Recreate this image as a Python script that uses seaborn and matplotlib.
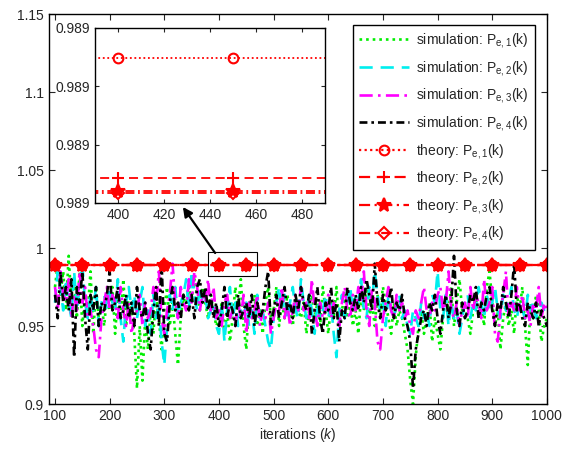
import numpy as np
import pandas as pd
import matplotlib
matplotlib.use("Agg")
import matplotlib.pyplot as plt
import seaborn as sns
from matplotlib.patches import Rectangle

sns.set_style("ticks")
plt.rcParams['font.family'] = ['Liberation Sans', 'DejaVu Sans']
plt.rcParams['mathtext.fontset'] = 'custom'
plt.rcParams['mathtext.rm'] = 'Liberation Sans'
plt.rcParams['mathtext.it'] = 'Liberation Sans:italic'

k_sim = list(range(100, 1001, 5))

sim1 = [.975,.990,.970,.985,.960,.995,.965,.980,.955,.985,
        .950,.970,.960,.985,.945,.975,.955,.965,.950,.970,
        .960,.975,.945,.970,.955,.980,.950,.965,.960,.945,
        .910,.950,.915,.955,.935,.960,.945,.970,.955,.935,
        .960,.975,.950,.965,.945,.925,.955,.970,.960,.975,
        .965,.980,.970,.960,.975,.965,.955,.970,.960,.950,
        .955,.965,.945,.960,.940,.955,.975,.960,.980,.950,
        .935,.965,.955,.970,.950,.960,.945,.965,.975,.955,
        .960,.975,.950,.965,.955,.970,.960,.950,.965,.960,
        .955,.965,.945,.960,.970,.955,.965,.950,.975,.960,
        .945,.965,.955,.975,.950,.960,.970,.955,.965,.950,
        .960,.945,.970,.960,.975,.955,.965,.950,.970,.960,
        .975,.965,.955,.945,.965,.950,.960,.955,.945,.935,
        .915,.900,.930,.950,.960,.945,.955,.965,.940,.955,
        .945,.935,.955,.970,.960,.975,.950,.965,.980,.960,
        .965,.955,.945,.960,.970,.955,.965,.950,.975,.985,
        .965,.950,.960,.935,.955,.965,.950,.960,.945,.970,
        .960,.975,.950,.925,.965,.955,.970,.960,.940,.950,
        .955]

sim2 = [.965,.985,.975,.960,.980,.965,.955,.985,.960,.975,
        .990,.965,.955,.970,.960,.975,.950,.965,.970,.960,
        .975,.965,.960,.980,.955,.940,.965,.975,.960,.970,
        .955,.965,.975,.950,.960,.945,.970,.955,.965,.940,
        .925,.950,.970,.960,.975,.955,.965,.970,.980,.960,
        .985,.970,.960,.975,.965,.970,.955,.960,.965,.950,
        .945,.965,.940,.960,.975,.955,.965,.950,.960,.955,
        .965,.950,.960,.945,.970,.955,.960,.950,.940,.935,
        .955,.965,.975,.960,.970,.955,.965,.975,.960,.955,
        .980,.965,.955,.970,.960,.945,.965,.955,.960,.970,
        .955,.965,.945,.930,.960,.970,.955,.965,.975,.960,
        .970,.965,.980,.960,.955,.975,.965,.985,.970,.960,
        .965,.950,.970,.960,.955,.965,.970,.955,.960,.950,
        .945,.960,.955,.950,.965,.955,.960,.950,.970,.965,
        .985,.960,.955,.970,.950,.965,.955,.960,.945,.955,
        .965,.970,.955,.965,.960,.975,.965,.955,.970,.960,
        .965,.975,.960,.955,.970,.960,.965,.975,.960,.955,
        .965,.960,.955,.970,.960,.965,.955,.960,.965,.960,
        .955]

sim3 = [.975,.960,.985,.970,.965,.980,.955,.970,.960,.985,
        .965,.975,.955,.960,.950,.935,.930,.955,.965,.975,
        .960,.970,.965,.955,.975,.960,.950,.965,.945,.955,
        .960,.970,.950,.965,.955,.960,.975,.965,.985,.955,
        .945,.960,.970,.990,.965,.955,.975,.965,.960,.980,
        .965,.985,.975,.960,.970,.965,.980,.960,.975,.955,
        .960,.950,.965,.970,.955,.960,.950,.965,.955,.970,
        .945,.965,.955,.960,.970,.950,.960,.955,.965,.945,
        .955,.965,.960,.975,.955,.965,.950,.960,.970,.960,
        .975,.960,.965,.955,.980,.960,.950,.965,.955,.960,
        .970,.955,.965,.960,.950,.965,.975,.960,.955,.970,
        .960,.975,.965,.985,.960,.950,.975,.965,.940,.935,
        .955,.965,.975,.960,.955,.970,.960,.965,.955,.960,
        .950,.945,.960,.955,.965,.975,.960,.955,.965,.960,
        .970,.975,.960,.965,.985,.960,.955,.965,.950,.960,
        .965,.955,.975,.960,.970,.965,.955,.980,.960,.965,
        .975,.945,.940,.960,.970,.985,.955,.965,.960,.975,
        .960,.970,.955,.960,.950,.965,.960,.975,.955,.965,
        .960]

sim4 = [.970,.955,.985,.965,.975,.960,.980,.930,.975,.965,
        .985,.955,.935,.970,.960,.975,.950,.965,.960,.970,
        .985,.960,.965,.975,.955,.960,.970,.955,.965,.950,
        .975,.960,.955,.965,.945,.935,.960,.975,.950,.990,
        .945,.940,.965,.975,.960,.965,.955,.970,.965,.960,
        .970,.955,.975,.980,.965,.975,.960,.970,.955,.965,
        .950,.960,.975,.955,.965,.960,.950,.970,.955,.960,
        .965,.955,.970,.950,.965,.955,.960,.975,.985,.950,
        .960,.970,.955,.965,.975,.960,.965,.955,.970,.960,
        .975,.965,.960,.970,.945,.960,.975,.955,.945,.965,
        .960,.975,.955,.965,.940,.960,.955,.975,.965,.960,
        .970,.960,.975,.965,.980,.970,.960,.990,.965,.955,
        .970,.960,.965,.975,.955,.965,.960,.970,.955,.950,
        .940,.910,.935,.945,.955,.960,.950,.965,.960,.970,
        .955,.945,.960,.970,.955,.965,.995,.960,.950,.965,
        .955,.960,.970,.965,.975,.955,.965,.960,.970,.975,
        .960,.950,.965,.960,.975,.965,.955,.970,.990,.960,
        .965,.955,.950,.965,.960,.955,.965,.950,.960,.955,
        .950]

k_th = list(range(100, 1001, 50))
theory_vals = [0.9891486, 0.988943, 0.988921, 0.988917]

sim_labels = [r"simulation: P$_{\mathrm{e,%d}}$(k)" % i for i in range(1, 5)]
th_labels = [r"theory: P$_{\mathrm{e,%d}}$(k)" % i for i in range(1, 5)]

sim_colors = ['#00ee00', '#00eeee', '#ff00ff', '#000000']
sim_styles = [(0, (1, 1.5)), (0, (5, 3)), (0, (5, 2, 1, 2)), (0, (3, 1.5, 1, 1.5))]
th_styles = [(0, (1, 1.5)), (0, (5, 3)), (0, (5, 2, 1, 2)), (0, (5, 2, 1, 2))]
th_markers = ['o', '+', '*', 'D']
th_msize = [7, 9, 10, 6]

fig = plt.figure(figsize=(5.65, 4.49), dpi=100)
ax = fig.add_axes([0.0867, 0.1002, 0.8813, 0.8686])

sims = [sim1, sim2, sim3, sim4]
for s, c, ls, lab in zip(sims, sim_colors, sim_styles, sim_labels):
    sns.lineplot(x=k_sim, y=s, ax=ax, color=c, linestyle=ls, linewidth=1.9, label=lab)

for v, ls, m, ms, lab in zip(theory_vals, th_styles, th_markers, th_msize, th_labels):
    yv = [v] * len(k_th)
    mfc = 'none' if m in ('o', 'D') else 'red'
    sns.lineplot(x=k_th, y=yv, ax=ax, color='red', linestyle=ls, linewidth=1.6,
                 marker=m, markersize=ms, markerfacecolor=mfc, markeredgecolor='red',
                 markeredgewidth=1.5, label=lab)

ax.set_xlim(89, 1000)
ax.set_ylim(0.9, 1.15)
ax.set_xticks(range(100, 1001, 100))
ax.set_yticks([0.9, 0.95, 1.0, 1.05, 1.1, 1.15])
ax.set_yticklabels(['0.9', '0.95', '1', '1.05', '1.1', '1.15'])
ax.tick_params(direction='in', top=True, right=True, labelsize=10, length=4, width=0.8)
for sp in ax.spines.values():
    sp.set_visible(True)
    sp.set_linewidth(1.0)
    sp.set_color('black')
ax.set_xlabel(r"iterations ($k$)", fontsize=10, labelpad=2)

leg = ax.legend(loc='upper right', fontsize=10, frameon=True, fancybox=False,
                edgecolor='black', framealpha=1, handlelength=3.6, borderpad=0.45,
                labelspacing=0.62, bbox_to_anchor=(0.99, 0.99), handletextpad=0.5)
leg.get_frame().set_linewidth(1.0)

# zoom rectangle and arrow
ax.add_patch(Rectangle((380, 0.982), 90, 0.0155, fill=False, edgecolor='black', linewidth=0.8, zorder=5))

# inset
ins = fig.add_axes([0.168, 0.548, 0.407, 0.39])
for v, ls, m, ms in zip(theory_vals, th_styles, th_markers, th_msize):
    yv = [v] * len(k_th)
    mfc = 'none' if m in ('o', 'D') else 'red'
    sns.lineplot(x=k_th, y=yv, ax=ins, color='red', linestyle=ls, linewidth=1.3,
                 marker=m, markersize=ms, markerfacecolor=mfc, markeredgecolor='red',
                 markeredgewidth=1.5)
ins.set_xlim(390, 490)
ins.set_ylim(0.98890, 0.98920)
ins.set_xticks([400, 420, 440, 460, 480])
ins.set_yticks([0.98890, 0.98900, 0.98910, 0.98920])
ins.set_yticklabels(['0.989'] * 4)
ins.tick_params(direction='in', top=True, right=True, labelsize=10, length=3, width=0.8)
for sp in ins.spines.values():
    sp.set_visible(True)
    sp.set_linewidth(1.0)
    sp.set_color('black')
ins.set_facecolor('white')

ax.annotate('', xy=(334, 1.0263), xytext=(393, 0.9968),
            arrowprops=dict(arrowstyle='-|>', color='black', lw=1.6, mutation_scale=14,
                            shrinkA=0, shrinkB=0), zorder=6)

fig.savefig('out.png', dpi=100)
